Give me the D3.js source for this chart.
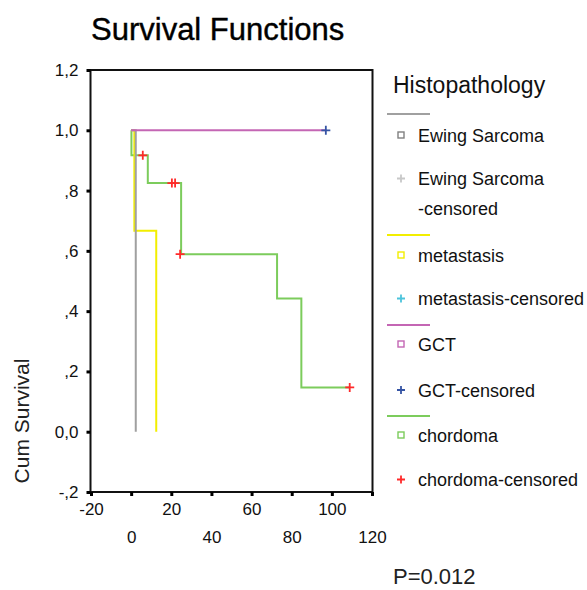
<!DOCTYPE html>
<html>
<head>
<meta charset="utf-8">
<script src="https://cdn.jsdelivr.net/npm/d3@7"></script>
<style>
  body { margin: 0; background: #fff; }
  svg { font-family: "Liberation Sans", Arial, sans-serif; }
</style>
</head>
<body>
<div id="chart"></div>
<script>
// ---- data ----
var xTicks = [-20, 0, 20, 40, 60, 80, 100, 120];
var yTicks = [-0.2, 0, 0.2, 0.4, 0.6, 0.8, 1.0, 1.2];

// step curves: time of each step, survival after the step
var ewingTimes = [0, 2.3];
var ewingSurv = [1, 0];
var metaTimes = [0, 1.6, 12.5];
var metaSurv = [1, 0.667, 0];
var gctTimes = [0];
var gctSurv = [1];
var gctEnd = 97;
var chordTimes = [0, 0.15, 8.3, 24.9, 72.7, 84.8];
var chordSurv = [1, 0.917, 0.825, 0.589, 0.442, 0.147];
var chordEnd = 108.9;

// censored observations
var gctCensT = [97];
var gctCensS = [1.0];
var chordCensT = [5.8, 20.3, 21.9, 24.4, 108.9];
var chordCensS = [0.917, 0.825, 0.825, 0.589, 0.147];

var legendNames = ["Ewing Sarcoma", "Ewing Sarcoma-censored", "metastasis", "metastasis-censored",
                   "GCT", "GCT-censored", "chordoma", "chordoma-censored"];

var colors = {
  ewing: "#a0a0a0", ewingSq: "#808080", ewingCens: "#c8c8c8",
  meta: "#f2ee00", metaCens: "#4cc4dc",
  gct: "#c466b4", gctCens: "#3554a4",
  chord: "#7ccc5c", chordCens: "#ff2a2a"
};

// ---- svg ----
var W = 587, H = 590;
var svg = d3.select("#chart").append("svg")
  .attr("width", W).attr("height", H);

var x = d3.scaleLinear().domain([-20, 120]).range([91, 372]);
var y = d3.scaleLinear().domain([-0.2, 1.2]).range([492, 70]);

// title
svg.append("text")
  .attr("x", 91).attr("y", 40)
  .attr("font-size", 31)
  .attr("fill", "#000")
  .attr("stroke", "#000").attr("stroke-width", 0.4)
  .text("Survival Functions");

// frame
svg.append("rect")
  .attr("x", x(-20) - 0.5).attr("y", y(1.2))
  .attr("width", x(120) - x(-20) + 1).attr("height", y(-0.2) - y(1.2))
  .attr("fill", "none").attr("stroke", "#111").attr("stroke-width", 2);

// y axis
function fmtY(v) {
  var s = Math.abs(v).toFixed(1);
  if (Math.abs(v) < 1 && v !== 0) s = s.slice(1);
  return (v < 0 ? "-" : "") + s.replace(".", ",");
}
var gy = svg.append("g")
  .attr("transform", "translate(" + (x(-20) - 0.5) + ",0)")
  .call(d3.axisLeft(y).tickValues(yTicks).tickFormat(fmtY).tickSize(4).tickPadding(8));
gy.select(".domain").remove();
gy.selectAll(".tick line").attr("stroke", "#000").attr("stroke-width", 3);
gy.selectAll(".tick text").attr("font-size", 17).attr("fill", "#111")
  .attr("font-family", "Liberation Sans, Arial, sans-serif");

// x axis, labels in two staggered rows
var gx = svg.append("g")
  .attr("transform", "translate(0," + y(-0.2) + ")")
  .call(d3.axisBottom(x).tickValues(xTicks).tickFormat(function(d) { return String(d); })
    .tickSize(4).tickPadding(0));
gx.select(".domain").remove();
gx.selectAll(".tick line").attr("stroke", "#000").attr("stroke-width", 3);
gx.selectAll(".tick text")
  .attr("font-size", 17).attr("fill", "#111")
  .attr("font-family", "Liberation Sans, Arial, sans-serif")
  .attr("dy", null)
  .attr("y", function(d, i) { return i % 2 === 0 ? 23 : 51; });

// y axis title
svg.append("text")
  .attr("transform", "translate(29,421) rotate(-90)")
  .attr("text-anchor", "middle")
  .attr("font-size", 21).attr("fill", "#222")
  .text("Cum Survival");

// ---- curves ----
function stepPath(times, surv, end) {
  var pts = [];
  for (var i = 0; i < times.length; i++) {
    if (i > 0) pts.push([x(times[i]), y(surv[i - 1])]);
    pts.push([x(times[i]), y(surv[i])]);
  }
  if (end !== undefined) pts.push([x(end), y(surv[surv.length - 1])]);
  return d3.line()(pts);
}

var curves = svg.append("g").attr("fill", "none").attr("stroke-width", 2);
curves.append("path").attr("d", stepPath(chordTimes, chordSurv, chordEnd)).attr("stroke", colors.chord);
curves.append("path").attr("d", stepPath(metaTimes, metaSurv)).attr("stroke", colors.meta);
curves.append("path").attr("d", stepPath(ewingTimes, ewingSurv)).attr("stroke", colors.ewing);
curves.append("path").attr("d", stepPath(gctTimes, gctSurv, gctEnd)).attr("stroke", colors.gct);

function plus(g, cx, cy, r, color) {
  g.append("path")
    .attr("d", "M" + (cx - r) + "," + cy + "H" + (cx + r) + "M" + cx + "," + (cy - r) + "V" + (cy + r))
    .attr("stroke", color).attr("stroke-width", 1.8).attr("fill", "none");
}
var marks = svg.append("g");
gctCensT.forEach(function(t, i) { plus(marks, x(t), y(gctCensS[i]), 4.5, colors.gctCens); });
chordCensT.forEach(function(t, i) { plus(marks, x(t), y(chordCensS[i]), 4.5, colors.chordCens); });

// ---- legend ----
var lg = svg.append("g").attr("font-size", 18).attr("fill", "#111");
lg.append("text").attr("x", 393).attr("y", 93).attr("font-size", 23).text("Histopathology");

var groups = [
  { line: colors.ewing, sq: colors.ewingSq, cens: colors.ewingCens, lineY: 114, base1: 141.5, base2: 185, two: true },
  { line: colors.meta, sq: colors.meta, cens: colors.metaCens, lineY: 235, base1: 261.5, base2: 305 },
  { line: colors.gct, sq: colors.gct, cens: colors.gctCens, lineY: 325, base1: 350.5, base2: 396.5 },
  { line: colors.chord, sq: colors.chord, cens: colors.chordCens, lineY: 416, base1: 441.5, base2: 486 }
];
groups.forEach(function(g, i) {
  lg.append("line").attr("x1", 387).attr("x2", 430).attr("y1", g.lineY).attr("y2", g.lineY)
    .attr("stroke", g.line).attr("stroke-width", 2);
  lg.append("rect").attr("x", 398).attr("y", g.base1 - 9.5).attr("width", 6).attr("height", 6)
    .attr("fill", "none").attr("stroke", g.sq).attr("stroke-width", 1.4);
  lg.append("text").attr("x", 418).attr("y", g.base1).text(legendNames[i * 2]);
  plus(lg, 401, g.base2 - 6.5, 4, g.cens);
  var name = legendNames[i * 2 + 1];
  if (g.two) {
    var parts = name.split("-");
    lg.append("text").attr("x", 418).attr("y", g.base2).text(parts[0]);
    lg.append("text").attr("x", 418).attr("y", g.base2 + 30).text("-" + parts[1]);
  } else {
    lg.append("text").attr("x", 418).attr("y", g.base2).text(name);
  }
});

// p value
svg.append("text").attr("x", 393).attr("y", 584).attr("font-size", 22).attr("fill", "#222").text("P=0.012");
</script>
</body>
</html>
